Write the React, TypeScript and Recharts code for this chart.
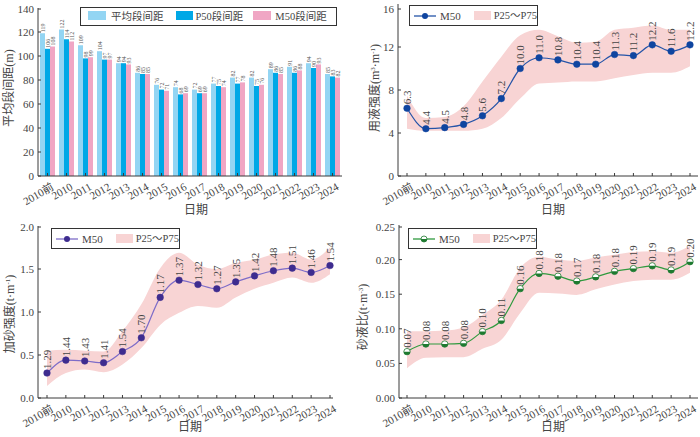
import React from 'react';
import { ComposedChart, BarChart, Bar, XAxis, YAxis, Line, Area, LabelList } from 'recharts';

const categories = ['2010前', '2010', '2011', '2012', '2013', '2014', '2015', '2016', '2017', '2018', '2019', '2020', '2021', '2022', '2023', '2024'];

// Panel 1: spacing (m)
const avgSpacing = [119, 122, 109, 104, 94, 86, 76, 74, 72, 77, 82, 82, 89, 91, 94, 85];
const p50Spacing = [106, 114, 98, 97, 94, 85, 72, 68, 69, 75, 77, 75, 86, 86, 90, 83];
const m50Spacing = [108, 112, 99, 97, 93, 85, 71, 69, 69, 74, 78, 76, 85, 88, 93, 82];
const spacingTicks = [0, 20, 40, 60, 80, 100, 120, 140];

// Panel 2: fluid intensity
const fluidM50 = [6.3, 4.4, 4.5, 4.8, 5.6, 7.2, 10.0, 11.0, 10.8, 10.4, 10.4, 11.3, 11.2, 12.2, 11.6, 12.2];
const fluidP25 = [4.4, 4.2, 4.2, 4.2, 4.4, 5.4, 7.2, 8.6, 8.7, 8.8, 8.8, 9.1, 9.4, 9.6, 9.6, 10.2];
const fluidP75 = [7.5, 5.4, 5.5, 6.5, 8.8, 11.1, 13.1, 13.6, 13.0, 12.4, 12.5, 13.6, 13.8, 14.0, 13.6, 13.6];
const fluidLabels = ['6.3', '4.4', '4.5', '4.8', '5.6', '7.2', '10.0', '11.0', '10.8', '10.4', '10.4', '11.3', '11.2', '12.2', '11.6', '12.2'];
const fluidTicks = [0, 4, 8, 12, 16];

// Panel 3: sand intensity
const sandM50 = [0.29, 0.44, 0.43, 0.41, 0.54, 0.70, 1.17, 1.37, 1.32, 1.27, 1.35, 1.42, 1.48, 1.51, 1.46, 1.54];
const sandP25 = [0.14, 0.29, 0.33, 0.30, 0.39, 0.58, 0.85, 0.99, 1.07, 1.05, 1.17, 1.27, 1.34, 1.40, 1.34, 1.44];
const sandP75 = [0.55, 0.56, 0.55, 0.54, 0.78, 1.09, 1.51, 1.69, 1.55, 1.50, 1.57, 1.61, 1.67, 1.69, 1.61, 1.75];
const sandLabels = ['1.29', '1.44', '1.43', '1.41', '1.54', '1.70', '1.17', '1.37', '1.32', '1.27', '1.35', '1.42', '1.48', '1.51', '1.46', '1.54'];
const sandTicks = [0, 0.5, 1.0, 1.5, 2.0];

// Panel 4: sand-fluid ratio
const ratioM50 = [0.067, 0.078, 0.078, 0.079, 0.096, 0.112, 0.158, 0.180, 0.176, 0.169, 0.175, 0.183, 0.187, 0.191, 0.185, 0.197];
const ratioP25 = [0.043, 0.058, 0.059, 0.059, 0.071, 0.084, 0.123, 0.152, 0.151, 0.149, 0.157, 0.164, 0.169, 0.171, 0.171, 0.181];
const ratioP75 = [0.0965, 0.0965, 0.0975, 0.102, 0.120, 0.142, 0.188, 0.204, 0.200, 0.198, 0.203, 0.207, 0.211, 0.212, 0.210, 0.220];
const ratioLabels = ['0.07', '0.08', '0.08', '0.08', '0.10', '0.11', '0.16', '0.18', '0.18', '0.17', '0.18', '0.18', '0.19', '0.19', '0.19', '0.20'];
const ratioTicks = [0, 0.05, 0.1, 0.15, 0.2, 0.25];

const barData = categories.map((c, i) => ({ cat: c, avg: avgSpacing[i], p50: p50Spacing[i], m50: m50Spacing[i] }));
const mk = (m: number[], lo: number[], hi: number[], lab: string[]) =>
  categories.map((c, i) => ({ cat: c, m50: m[i], band: [lo[i], hi[i]], lab: lab[i] }));
const fluidData = mk(fluidM50, fluidP25, fluidP75, fluidLabels);
const sandData = mk(sandM50, sandP25, sandP75, sandLabels);
const ratioData = mk(ratioM50, ratioP25, ratioP75, ratioLabels);

const SERIF = '"Liberation Serif", "Times New Roman", "Noto Sans CJK SC", serif';
const AXIS = '#3a3a3a';
const TXT = '#444';
const BAND = '#f8d4d4';

const C_AVG = '#93d5f3';
const C_P50 = '#00a8e6';
const C_M50 = '#f0a6c4';

const XTick = (props: any) => {
  const { x, y, payload } = props;
  return (
    <g>
      <line x1={x} x2={x} y1={y} y2={y - 3} stroke={AXIS} strokeWidth={1} />
      <text transform={`translate(${x + 7},${y + 13}) rotate(-30)`} textAnchor="end" fontSize={11} fill={TXT} fontFamily={SERIF}>
        {payload.value}
      </text>
    </g>
  );
};

const makeYTick = (fmt: (v: number) => string) => (props: any) => {
  const { x, y, payload } = props;
  return (
    <g>
      <line x1={x} x2={x + 3} y1={y} y2={y} stroke={AXIS} strokeWidth={1} />
      <text x={x - 4} y={y + 4} textAnchor="end" fontSize={11} fill={TXT} fontFamily={SERIF}>
        {fmt(payload.value)}
      </text>
    </g>
  );
};

const BarValueLabel = (props: any) => {
  const { x, y, width, value } = props;
  return (
    <text transform={`translate(${x + width / 2 + 2},${y - 1}) rotate(-90)`} fontSize={6} fill="#555" fontFamily={SERIF}>
      {value}
    </text>
  );
};

const PointLabel = (props: any) => {
  const { x, y, value } = props;
  return (
    <text transform={`translate(${x + 4},${y - 4}) rotate(-90)`} fontSize={11} fill={TXT} fontFamily={SERIF}>
      {value}
    </text>
  );
};

const GreenDot = (props: any) => {
  const { cx, cy } = props;
  if (cx == null || cy == null) return null;
  const r = 3.2;
  return (
    <g>
      <circle cx={cx} cy={cy} r={r} fill="#fff" stroke="#1e7a30" strokeWidth={0.8} />
      <path d={`M${cx - r},${cy} A${r},${r} 0 0 0 ${cx + r},${cy} Z`} fill="#1e7a30" />
    </g>
  );
};

const boxStyle: React.CSSProperties = {
  position: 'absolute',
  border: '1px solid #333',
  background: '#fff',
  display: 'flex',
  alignItems: 'center',
  fontFamily: SERIF,
  fontSize: 11,
  color: TXT,
  boxSizing: 'border-box',
  whiteSpace: 'nowrap',
  overflow: 'visible',
  lineHeight: '12px',
};

const Swatch = ({ color, w = 18, h = 9 }: { color: string; w?: number; h?: number }) => (
  <span style={{ display: 'inline-block', width: w, height: h, background: color, flex: 'none' }} />
);

const LineKey = ({ line, dot, green }: { line: string; dot: string; green?: boolean }) => (
  <svg width={22} height={10} style={{ display: 'block' }}>
    <line x1={0} x2={22} y1={5} y2={5} stroke={line} strokeWidth={1.3} />
    {green ? (
      <g>
        <circle cx={11} cy={5} r={3} fill="#fff" stroke={dot} strokeWidth={0.8} />
        <path d="M8,5 A3,3 0 0 0 14,5 Z" fill={dot} />
      </g>
    ) : (
      <circle cx={11} cy={5} r={3} fill={dot} />
    )}
  </svg>
);

const BandLegend = ({ left, top, line, dot, green }: any) => (
  <div style={{ ...boxStyle, left, top, width: 129, height: 21 }}>
    <span style={{ marginLeft: 4, flex: 'none' }}><LineKey line={line} dot={dot} green={green} /></span>
    <span style={{ marginLeft: 4 }}>M50</span>
    <span style={{ marginLeft: 13, flex: 'none' }}><Swatch color={BAND} w={17} h={9} /></span>
    <span style={{ marginLeft: 3, fontSize: 10.5 }}>P25～P75</span>
  </div>
);

const YTitle = ({ x, y, children }: any) => (
  <text transform={`translate(${x},${y}) rotate(-90)`} textAnchor="middle" fontSize={12} fill={TXT} fontFamily={SERIF}>
    {children}
  </text>
);

const XTitle = ({ x, y }: any) => (
  <text x={x} y={y} textAnchor="middle" fontSize={12} fill={TXT} fontFamily={SERIF}>日期</text>
);

export default function App() {
  const fmtInt = (v: number) => String(v);
  const fmt1 = (v: number) => v.toFixed(1);
  const fmt2 = (v: number) => v.toFixed(2);
  return (
    <div style={{ position: 'absolute', left: 0, top: 0, width: 700, height: 437, background: '#fff', fontFamily: SERIF }}>
      {/* Panel 1 */}
      <div style={{ position: 'absolute', left: 0, top: 0 }}>
        <BarChart width={350} height={218} data={barData} margin={{ top: 8, right: 8, left: 0, bottom: 0 }} barGap={0} barCategoryGap={2}>
          <XAxis dataKey="cat" interval={0} tickSize={0} tickMargin={0} tickLine={false} height={42} stroke={AXIS} tick={<XTick />} />
          <YAxis domain={[0, 140]} ticks={spacingTicks} width={38} tickSize={0} tickMargin={0} tickLine={false} stroke={AXIS} tick={makeYTick(fmtInt)} />
          <Bar dataKey="avg" fill={C_AVG} isAnimationActive={false}>
            <LabelList dataKey="avg" content={<BarValueLabel />} />
          </Bar>
          <Bar dataKey="p50" fill={C_P50} isAnimationActive={false}>
            <LabelList dataKey="p50" content={<BarValueLabel />} />
          </Bar>
          <Bar dataKey="m50" fill={C_M50} isAnimationActive={false}>
            <LabelList dataKey="m50" content={<BarValueLabel />} />
          </Bar>
          <YTitle x={13} y={88}>平均段间距(m)</YTitle>
          <XTitle x={196} y={214} />
        </BarChart>
        <div style={{ ...boxStyle, left: 80, top: 7, width: 257, height: 19, fontSize: 10.5 }}>
          <span style={{ marginLeft: 7, flex: 'none' }}><Swatch color={C_AVG} /></span>
          <span style={{ marginLeft: 5 }}>平均段间距</span>
          <span style={{ marginLeft: 12, flex: 'none' }}><Swatch color={C_P50} w={17} /></span>
          <span style={{ marginLeft: 3 }}>P50段间距</span>
          <span style={{ marginLeft: 10, flex: 'none' }}><Swatch color={C_M50} /></span>
          <span style={{ marginLeft: 4 }}>M50段间距</span>
        </div>
      </div>

      {/* Panel 2 */}
      <div style={{ position: 'absolute', left: 350, top: 0 }}>
        <ComposedChart width={350} height={218} data={fluidData} margin={{ top: 4, right: 2, left: 0, bottom: 0 }}>
          <XAxis dataKey="cat" interval={0} tickSize={0} tickMargin={0} tickLine={false} height={42} stroke={AXIS} tick={<XTick />} padding={{ left: 9, right: 8 }} />
          <YAxis domain={[0, 16]} ticks={fluidTicks} width={48} tickSize={0} tickMargin={0} tickLine={false} stroke={AXIS} tick={makeYTick(fmtInt)} />
          <Area dataKey="band" type="monotone" fill={BAND} fillOpacity={1} stroke="none" isAnimationActive={false} />
          <Line dataKey="m50" type="monotone" stroke="#2554a8" strokeWidth={1.2} dot={{ r: 3.3, fill: '#0f45a0', stroke: '#0f45a0', strokeWidth: 0.5 }} isAnimationActive={false}>
            <LabelList dataKey="lab" content={<PointLabel />} />
          </Line>
          <YTitle x={29} y={88}>
            用液强度(m<tspan dy={-4} fontSize={7}>3</tspan><tspan dy={4}>·m</tspan><tspan dy={-4} fontSize={7}>-1</tspan><tspan dy={4}>)</tspan>
          </YTitle>
          <XTitle x={203} y={214} />
        </ComposedChart>
        <BandLegend left={59} top={5} line="#2554a8" dot="#0f45a0" />
      </div>

      {/* Panel 3 */}
      <div style={{ position: 'absolute', left: 0, top: 218 }}>
        <ComposedChart width={350} height={219} data={sandData} margin={{ top: 8, right: 17, left: 0, bottom: 0 }}>
          <XAxis dataKey="cat" interval={0} tickSize={0} tickMargin={0} tickLine={false} height={39} stroke={AXIS} tick={<XTick />} padding={{ left: 9, right: 3 }} />
          <YAxis domain={[0, 2]} ticks={sandTicks} width={38} tickSize={0} tickMargin={0} tickLine={false} stroke={AXIS} tick={makeYTick(fmt1)} />
          <Area dataKey="band" type="monotone" fill={BAND} fillOpacity={1} stroke="none" isAnimationActive={false} />
          <Line dataKey="m50" type="monotone" stroke="#7d6cc8" strokeWidth={1.2} dot={{ r: 3.3, fill: '#3e2c8f', stroke: '#3e2c8f', strokeWidth: 0.5 }} isAnimationActive={false}>
            <LabelList dataKey="lab" content={<PointLabel />} />
          </Line>
          <YTitle x={14} y={96}>
            加砂强度(t·m<tspan dy={-4} fontSize={7}>-1</tspan><tspan dy={4}>)</tspan>
          </YTitle>
          <XTitle x={190} y={213} />
        </ComposedChart>
        <BandLegend left={51} top={10} line="#7d6cc8" dot="#3e2c8f" />
      </div>

      {/* Panel 4 */}
      <div style={{ position: 'absolute', left: 350, top: 218 }}>
        <ComposedChart width={350} height={219} data={ratioData} margin={{ top: 7, right: 2, left: 0, bottom: 0 }}>
          <XAxis dataKey="cat" interval={0} tickSize={0} tickMargin={0} tickLine={false} height={39} stroke={AXIS} tick={<XTick />} padding={{ left: 8, right: 8 }} />
          <YAxis domain={[0, 0.25]} ticks={ratioTicks} width={49} tickSize={0} tickMargin={0} tickLine={false} stroke={AXIS} tick={makeYTick(fmt2)} />
          <Area dataKey="band" type="monotone" fill={BAND} fillOpacity={1} stroke="none" isAnimationActive={false} />
          <Line dataKey="m50" type="monotone" stroke="#2f9a3e" strokeWidth={1.2} dot={<GreenDot />} isAnimationActive={false}>
            <LabelList dataKey="lab" content={<PointLabel />} />
          </Line>
          <YTitle x={17} y={99}>
            砂液比(t·m<tspan dy={-4} fontSize={7}>-3</tspan><tspan dy={4}>)</tspan>
          </YTitle>
          <XTitle x={203} y={213} />
        </ComposedChart>
        <BandLegend left={58} top={10} line="#2f9a3e" dot="#1e7a30" green />
      </div>
    </div>
  );
}
